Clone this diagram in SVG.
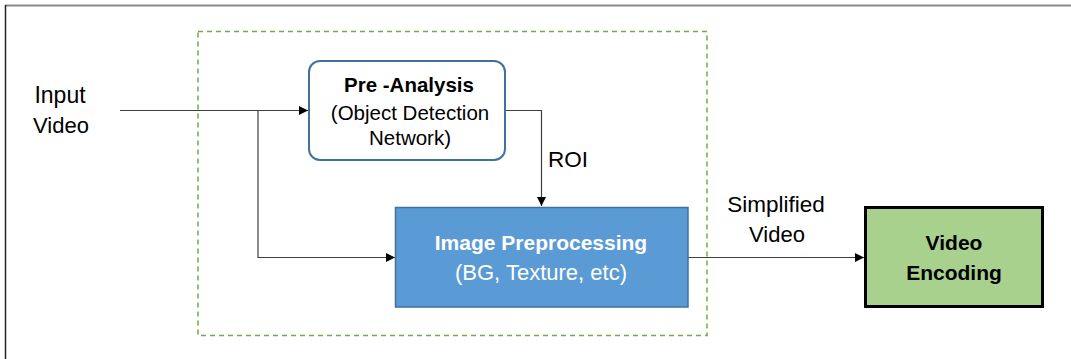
<svg xmlns="http://www.w3.org/2000/svg" width="1071" height="359" viewBox="0 0 1071 359">
  <style>
    .t { font-family: "Liberation Sans", Arial, sans-serif; font-size: 21px; fill: #000; text-anchor: middle; }
    .b { font-weight: bold; }
    .w { fill: #ffffff; }
    .wire { fill: none; stroke: #404040; stroke-width: 1.2; }
  </style>
  <defs>
    <marker id="arrow" viewBox="0 0 10 10" refX="10" refY="5" markerWidth="9" markerHeight="9" markerUnits="userSpaceOnUse" orient="auto">
      <path d="M0,0 L10,5 L0,10 Z" fill="#000"/>
    </marker>
  </defs>
  <rect width="1071" height="359" fill="#ffffff"/>

  <!-- page frame -->
  <line x1="5" y1="5.5" x2="1071" y2="5.5" stroke="#8a8a8a" stroke-width="2"/>
  <line x1="5.5" y1="5" x2="5.5" y2="359" stroke="#222" stroke-width="1.5"/>

  <!-- dashed processing boundary -->
  <rect id="boundary" x="198" y="31.5" width="509" height="304" fill="none" stroke="#70AD47" stroke-width="1.5" stroke-dasharray="5,4"/>

  <!-- connectors -->
  <g id="connectors">
    <path class="wire" d="M120,110.5 H308" marker-end="url(#arrow)"/>
    <path class="wire" d="M258,110.5 V257.5 H395" marker-end="url(#arrow)"/>
    <path class="wire" d="M505,110.5 H541.5 V206" marker-end="url(#arrow)"/>
    <path class="wire" d="M688,257.5 H864" marker-end="url(#arrow)"/>
  </g>

  <!-- edge labels -->
  <g id="labels">
    <text class="t" x="60" y="103" style="font-size:23px">Input</text>
    <text class="t" x="61" y="133" style="font-size:22px">Video</text>
    <text class="t" x="568" y="167" style="font-size:22.5px">ROI</text>
    <text class="t" x="776" y="212" style="font-size:22.5px">Simplified</text>
    <text class="t" x="777" y="242" style="font-size:22px">Video</text>
  </g>

  <g id="pre-analysis">
    <rect x="309" y="61" width="196" height="99" rx="11" ry="11" fill="#ffffff" stroke="#41719C" stroke-width="2"/>
    <text class="t b" x="409" y="92" style="font-size:20.5px">Pre -Analysis</text>
    <text class="t" x="410" y="119.5" style="font-size:20.5px">(Object Detection</text>
    <text class="t" x="410" y="145" style="font-size:20.5px">Network)</text>
  </g>

  <g id="image-preprocessing">
    <rect x="395.5" y="207.5" width="292.5" height="99.5" fill="#5B9BD5" stroke="#41719C" stroke-width="1.5"/>
    <text class="t b w" x="541" y="250">Image Preprocessing</text>
    <text class="t w" x="541" y="280" style="font-size:22px">(BG, Texture, etc)</text>
  </g>

  <g id="video-encoding">
    <rect x="865.5" y="207.5" width="177" height="99" fill="#A9D18E" stroke="#000" stroke-width="3"/>
    <text class="t b" x="954" y="250">Video</text>
    <text class="t b" x="954" y="280">Encoding</text>
  </g>
</svg>
